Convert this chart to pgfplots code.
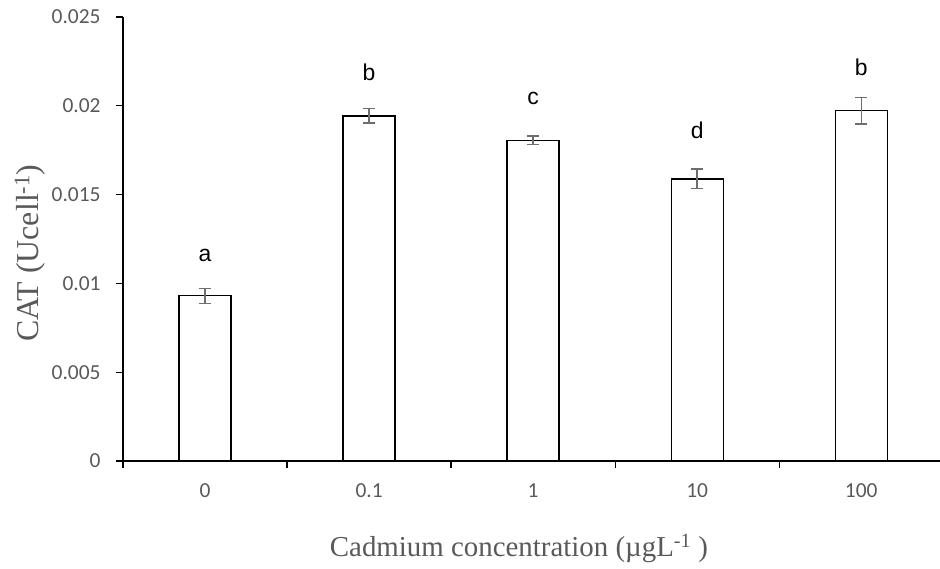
\documentclass[border=0pt]{standalone}
\usepackage{fontspec}
\setmainfont{Liberation Serif}
\newfontfamily\carlito{Carlito}
\newfontfamily\arialf{Liberation Sans}
\usepackage{pgfplots}
\usepackage{pgfplotstable}
\pgfplotsset{compat=1.18}
\usetikzlibrary{calc}
\definecolor{tickgray}{HTML}{595959}
\definecolor{errgray}{HTML}{6E6E6E}

\pgfplotstableread{
x y err lab ly
0 0.00930 0.00042 a 0.0116
1 0.01943 0.00041 b 0.0219
2 0.01806 0.00024 c 0.02044
3 0.01588 0.00055 d 0.01864
4 0.01972 0.00075 b 0.02218
}\datatable

\begin{document}
\begin{tikzpicture}
\begin{axis}[name=ax, scale only axis, width=817bp, height=444bp,
  xmin=-0.5, xmax=4.48, ymin=0, ymax=0.025,
  scaled y ticks=false,
  axis x line*=bottom, axis y line*=left,
  axis line style={line width=1.3pt, black},
  xtick={0,1,2,3,4}, xticklabels={0,0.1,1,10,100},
  major x tick style={draw=none},
  minor xtick={-0.5,0.5,1.5,2.5,3.5},
  minor x tick style={line width=1.3pt, black},
  minor tick length=7bp,
  ytick={0,0.005,0.01,0.015,0.02,0.025},
  yticklabels={0,0.005,0.01,0.015,0.02,0.025},
  y tick style={line width=1.3pt, black},
  major tick length=7bp,
  tick align=outside,
  tick label style={font=\carlito\fontsize{21.5}{25}\selectfont, text=tickgray},
  xticklabel style={yshift=-12bp},
  yticklabel style={xshift=-12bp},
  xlabel={Cadmium concentration (\textmu gL\textsuperscript{-1} )},
  ylabel={CAT (Ucell\textsuperscript{-1})},
  xlabel style={font=\fontsize{29}{32}\selectfont, text=tickgray, at={(axis description cs:0.4847,-0.196)}, anchor=center},
  ylabel style={font=\fontsize{32}{36}\selectfont, text=tickgray, at={(axis description cs:-0.1138,0.468)}, anchor=center, rotate=0},
  clip=false,
]
\addplot[ybar, bar width=52bp, draw=black, line width=1.3pt, fill=white,
  error bars/.cd, y dir=both, y explicit,
  error bar style={errgray, line width=1.5pt},
  error mark options={rotate=90, mark size=6bp, line width=1.5pt, errgray}]
  table[x=x, y=y, y error=err]{\datatable};
\addplot[draw=none, mark=none, nodes near coords, point meta=explicit symbolic,
  nodes near coords style={font=\arialf\fontsize{23}{27}\selectfont, anchor=center, text=black}]
  table[x=x, y=ly, meta=lab]{\datatable};
\end{axis}
\pgfresetboundingbox
\path ($(ax.south west)+(-123bp,-108bp)$) rectangle ($(ax.north east)+(0bp,17bp)$);
\end{tikzpicture}
\end{document}
